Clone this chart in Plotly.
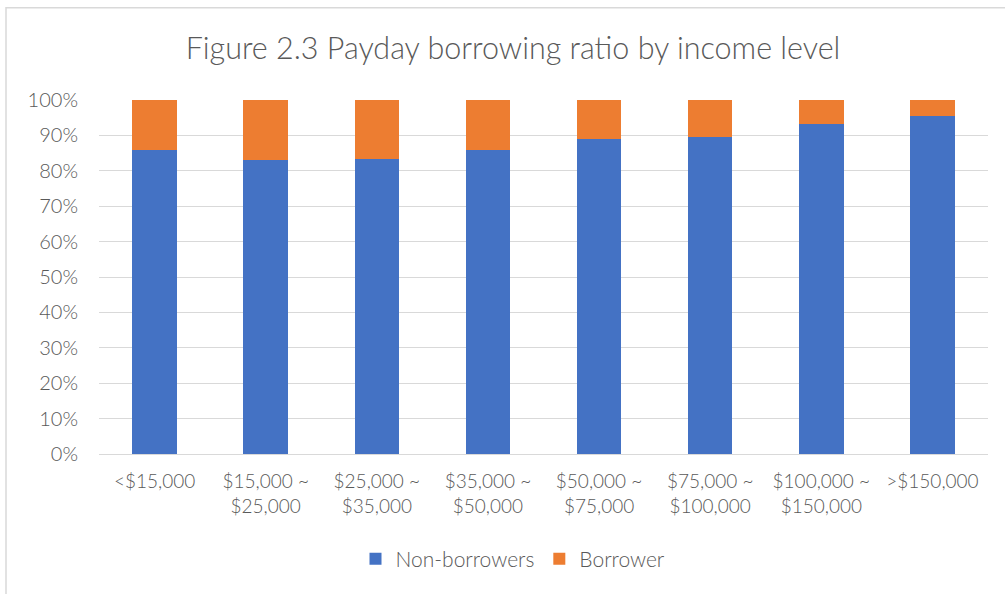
import plotly.graph_objects as go

# Household income brackets (x-axis categories)
income_levels = [
    "<$15,000",
    "$15,000 ~<br>$25,000",
    "$25,000 ~<br>$35,000",
    "$35,000 ~<br>$50,000",
    "$50,000 ~<br>$75,000",
    "$75,000 ~<br>$100,000",
    "$100,000 ~<br>$150,000",
    ">$150,000",
]

# Share of each bracket, in percent
non_borrowers = [85.8, 83.1, 83.3, 85.8, 88.9, 89.5, 93.2, 95.4]
borrowers = [14.2, 16.9, 16.7, 14.2, 11.1, 10.5, 6.8, 4.6]

y_tick_values = [0, 10, 20, 30, 40, 50, 60, 70, 80, 90, 100]
y_tick_labels = ["0%", "10%", "20%", "30%", "40%", "50%",
                 "60%", "70%", "80%", "90%", "100%"]

FONT = "Lato"
TEXT_GREY = "#595959"
GRID_GREY = "#d9d9d9"

fig = go.Figure()
fig.add_trace(go.Bar(
    x=income_levels, y=non_borrowers, name="Non-borrowers",
    marker=dict(color="#4472C4", line=dict(width=0)),
))
fig.add_trace(go.Bar(
    x=income_levels, y=borrowers, name="Borrower",
    marker=dict(color="#ED7D31", line=dict(width=0)),
))

# plot area geometry in pixels
W, H = 1005, 594
L, R, T, B = 99, 17, 99.5, 139.5
pw, ph = W - L - R, H - T - B

def px_x(p):
    return (p - L) / pw

def px_y(p):
    return (H - B - p) / ph

fig.update_layout(
    width=W, height=H,
    margin=dict(l=L, r=R, t=T, b=B),
    paper_bgcolor="white", plot_bgcolor="white",
    barmode="stack", bargap=0.6,
    font=dict(family=FONT, color=TEXT_GREY, size=19, weight=300),
    title=dict(
        text="Figure 2.3 Payday borrowing ratio by income level",
        x=513 / W, xanchor="center", xref="container",
        y=1 - 48 / H, yanchor="middle", yref="container",
        font=dict(family=FONT, size=30.5, color=TEXT_GREY, weight=300),
    ),
    xaxis=dict(
        showgrid=False, showline=True, linecolor=GRID_GREY, linewidth=1.3,
        ticks="", tickfont=dict(size=19, color=TEXT_GREY, weight=300),
        ticklabelstandoff=10,
    ),
    yaxis=dict(
        range=[0, 100], tickmode="array",
        tickvals=y_tick_values, ticktext=y_tick_labels,
        showgrid=True, gridcolor=GRID_GREY, gridwidth=1.3,
        zeroline=False, showline=False, ticks="",
        tickfont=dict(size=20, color=TEXT_GREY, weight=300),
        ticklabelstandoff=20,
    ),
    legend=dict(
        orientation="h", traceorder="normal",
        x=px_x(513), xanchor="center",
        y=px_y(560), yanchor="middle",
        font=dict(size=21, color=TEXT_GREY, weight=300),
        itemwidth=30,
    ),
    shapes=[dict(
        type="rect", xref="paper", yref="paper",
        x0=px_x(6), x1=px_x(1012), y0=px_y(600), y1=px_y(7),
        line=dict(color=GRID_GREY, width=1.5), fillcolor="rgba(0,0,0,0)",
        layer="below",
    )],
)

fig.write_html("out.html")
